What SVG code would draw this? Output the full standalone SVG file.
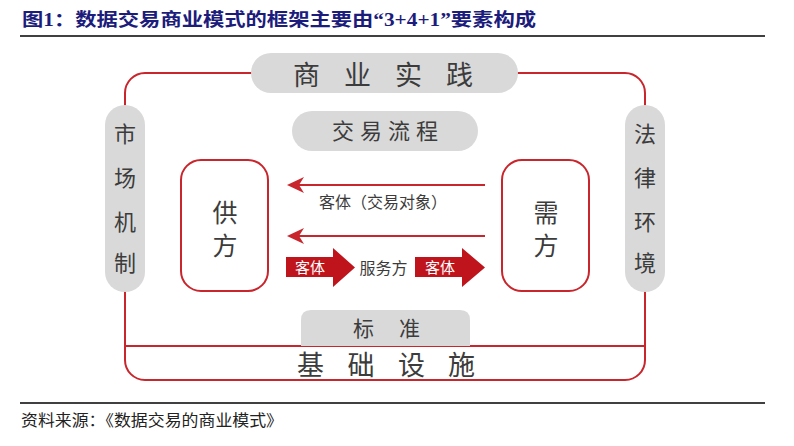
<svg xmlns="http://www.w3.org/2000/svg" width="794" height="446" viewBox="0 0 794 446">
<style>
.t{font-family:"Noto Sans CJK SC","Noto Sans",sans-serif;fill:#3c3c3c;text-anchor:middle}
.pill{fill:#d9d9d9}
.box{fill:#ffffff;stroke:#c9252c;stroke-width:2}
.ln{stroke:#c9252c;stroke-width:2;fill:none}
.ah{fill:#c9252c}
.blk{fill:#c0141c}
.w{font-family:"Noto Sans CJK SC","Noto Sans",sans-serif;fill:#ffffff;text-anchor:middle;font-size:15px}
</style>
<rect width="794" height="446" fill="#ffffff"/>
<g id="title">
<text x="22" y="26" font-family="Liberation Serif,Noto Sans CJK SC,serif" font-weight="bold" font-size="18" fill="#1c1c7c" textLength="514" lengthAdjust="spacingAndGlyphs">图1：数据交易商业模式的框架主要由“3+4+1”要素构成</text>
<line x1="20" y1="36" x2="765" y2="36" stroke="#000" stroke-width="1.4"/>
</g>
<g id="frame">
<rect x="125" y="73" width="520" height="307" rx="20" class="ln"/>
<line x1="125" y1="346" x2="645" y2="346" class="ln"/>
</g>
<g id="biz-practice">
<rect x="251" y="53" width="267" height="40" rx="20" class="pill"/>
<g class="t" font-size="27"><text x="306.5" y="85">商</text><text x="357.5" y="85">业</text><text x="408.5" y="85">实</text><text x="459.5" y="85">践</text></g>
</g>
<g id="trade-process">
<rect x="292" y="111" width="186" height="40" rx="20" class="pill"/>
<g class="t" font-size="22"><text x="343" y="139">交</text><text x="371" y="139">易</text><text x="399" y="139">流</text><text x="427" y="139">程</text></g>
</g>
<g id="market">
<rect x="105" y="105" width="40" height="187" rx="20" class="pill"/>
<g class="t" font-size="22"><text x="125" y="142">市</text><text x="125" y="186">场</text><text x="125" y="230">机</text><text x="125" y="271">制</text></g>
</g>
<g id="legal">
<rect x="625" y="105" width="40" height="187" rx="20" class="pill"/>
<g class="t" font-size="22"><text x="645" y="142">法</text><text x="645" y="186">律</text><text x="645" y="230">环</text><text x="645" y="271">境</text></g>
</g>
<g id="supply">
<rect x="181" y="160" width="87" height="131" rx="20" class="box"/>
<g class="t" font-size="25"><text x="225" y="222">供</text><text x="225" y="255">方</text></g>
</g>
<g id="demand">
<rect x="502" y="160" width="87" height="131" rx="20" class="box"/>
<g class="t" font-size="25"><text x="546" y="222">需</text><text x="546" y="255">方</text></g>
</g>
<g id="standard">
<path d="M301,346 V320 Q301,310 311,310 H460 Q470,310 470,320 V346 Z" class="pill"/>
<g class="t" font-size="21"><text x="363.5" y="336">标</text><text x="409.5" y="336">准</text></g>
</g>
<g id="infra">
<g class="t" font-size="27"><text x="310.5" y="375">基</text><text x="361" y="375">础</text><text x="411.5" y="375">设</text><text x="461.5" y="375">施</text></g>
</g>
<g id="connectors">
<line x1="485" y1="185" x2="298" y2="185" class="ln"/>
<path d="M287,185 L304,177 L299,185 L304,193 Z" class="ah"/>
<text x="383" y="208" class="t" font-size="16">客体（交易对象）</text>
<line x1="485" y1="236" x2="298" y2="236" class="ln"/>
<path d="M287,236 L304,228 L299,236 L304,244 Z" class="ah"/>
<path d="M286,257 H333 V248 L355,267.5 L333,287 V277 H286 Z" class="blk"/>
<text x="310" y="273" class="w">客体</text>
<text x="383.5" y="273.5" class="t" font-size="16">服务方</text>
<path d="M415,257 H462 V248 L485,267.5 L462,287 V277 H415 Z" class="blk"/>
<text x="440" y="273" class="w">客体</text>
</g>
<g id="footer">
<line x1="20" y1="403" x2="765" y2="403" stroke="#000" stroke-width="1.3"/>
<text x="21" y="426" font-family="Noto Sans CJK SC,sans-serif" font-size="15.5" fill="#222" textLength="262" lengthAdjust="spacingAndGlyphs">资料来源：《数据交易的商业模式》</text>
</g>
</svg>
